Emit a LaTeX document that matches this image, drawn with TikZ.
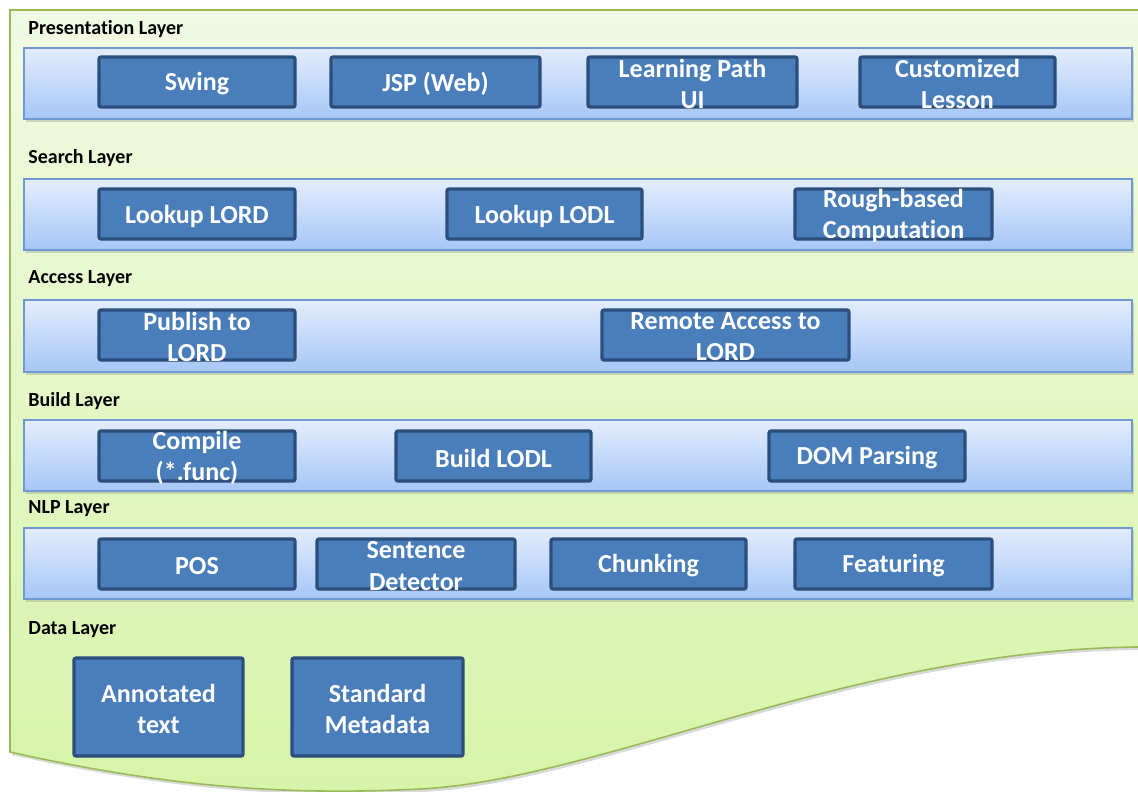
\documentclass[tikz,border=0pt]{standalone}
\usepackage{fontspec}
\setmainfont[Ligatures={NoCommon,NoRequired,NoContextual},Contextuals=NoAlternate]{Carlito}
\usetikzlibrary{positioning,shadows}

\definecolor{pagetop}{HTML}{F1FAE4}
\definecolor{pagebot}{HTML}{D6F4A8}
\definecolor{pageline}{HTML}{9BBB59}
\definecolor{bandtop}{HTML}{E3EDFD}
\definecolor{bandbot}{HTML}{A6C6F6}
\definecolor{bandline}{HTML}{6F9AD2}
\definecolor{blkfill}{HTML}{4A7EBB}
\definecolor{blkline}{HTML}{2B4E7C}

\begin{document}
\begin{tikzpicture}[x=0.5pt,y=-0.5pt,
  layer/.style={draw=bandline,line width=0.8pt,top color=bandtop,bottom color=bandbot,
    drop shadow={opacity=0.3,shadow xshift=0.8pt,shadow yshift=-1.6pt}},
  blk/.style={draw=blkline,fill=blkfill,line width=1.6pt,rounded corners=1pt,
    minimum width=98pt,minimum height=25pt,inner sep=0pt,
    drop shadow={opacity=0.25,shadow xshift=0.6pt,shadow yshift=-0.8pt}},
  btxt/.style={text=white,align=center,inner sep=0pt,yshift=-1pt,font=\bfseries\fontsize{13}{15.6}\selectfont},
  lbl/.style={anchor=west,inner sep=0pt,font=\bfseries\fontsize{10}{12}\selectfont}]
\useasboundingbox (0,0) rectangle (1138,791);
\clip (0,0) rectangle (1138,791);

% background sheet
\path[draw=pageline,line width=0.8pt,top color=pagetop,bottom color=pagebot,
  drop shadow={opacity=0.3,shadow xshift=1pt,shadow yshift=-1.5pt}]
  (1160,10) -- (10,10) -- (10,752) .. controls (180,790) and (300,795) .. (420,789)
  .. controls (600,780) and (850,650) .. (1138,647) -- (1160,647);

% layer bands
\draw[layer] (24,48) rectangle (1132,119);
\draw[layer] (24,179) rectangle (1132,250);
\draw[layer] (24,300) rectangle (1132,372);
\draw[layer] (24,420) rectangle (1132,491);
\draw[layer] (24,528) rectangle (1132,599);

% layer names
\node[lbl] (lpres) at (28,29) {Presentation Layer};
\node[lbl] (lsear) at (28,158) {Search Layer};
\node[lbl] (lacc) at (28,279) {Access Layer};
\node[lbl] (lbld) at (28,401) {Build Layer};
\node[lbl] (lnlp) at (28,509) {NLP Layer};
\node[lbl] (ldata) at (28,630) {Data Layer};

% presentation
\node[blk] (swing) at (197,82) {};
\node[btxt] (swingt) at (swing) {Swing};
\node[blk,minimum width=104.5pt] (jsp) at (435.5,82) {};
\node[btxt] (jspt) at (jsp) {JSP (Web)};
\node[blk,minimum width=104.5pt] (lpath) at (692.5,82) {};
\node[btxt] (lpatht) at (lpath) {Learning Path\\UI};
\node[blk,minimum width=97.5pt] (clesson) at (957.5,82) {};
\node[btxt] (clessont) at (clesson) {Customized\\Lesson};

% search
\node[blk] (lord) at (197,214) {};
\node[btxt] (lordt) at (lord) {Lookup LORD};
\node[blk,minimum width=97.5pt] (lodl) at (544.5,214) {};
\node[btxt] (lodlt) at (lodl) {Lookup LODL};
\node[blk,minimum width=98.5pt] (rough) at (893.5,214) {};
\node[btxt] (rought) at (rough) {Rough-based\\Computation};

% access
\node[blk] (publ) at (197,335) {};
\node[btxt] (publt) at (publ) {Publish to\\LORD};
\node[blk,minimum width=123.5pt] (remote) at (725.5,335) {};
\node[btxt] (remotet) at (remote) {Remote Access to\\LORD};

% build
\node[blk] (comp) at (197,456) {};
\node[btxt] (compt) at (comp) {Compile\\(*.func)};
\node[blk,minimum width=97.5pt] (blodl) at (493.5,456) {};
\node[btxt] (blodlt) at (blodl) {Build LODL};
\node[blk] (dom) at (867,456) {};
\node[btxt] (domt) at (dom) {DOM Parsing};

% nlp
\node[blk] (pos) at (197,564) {};
\node[btxt] (post) at (pos) {POS};
\node[blk,minimum width=99pt] (sent) at (416,564) {};
\node[btxt] (sentt) at (sent) {Sentence\\Detector};
\node[blk,minimum width=97.5pt] (chunk) at (648.5,564) {};
\node[btxt] (chunkt) at (chunk) {Chunking};
\node[blk,minimum width=98.5pt] (feat) at (893.5,564) {};
\node[btxt] (featt) at (feat) {Featuring};

% data
\node[blk,minimum width=84.5pt,minimum height=49pt] (annot) at (158.5,707) {};
\node[btxt] (annott) at (annot) {Annotated\\text};
\node[blk,minimum width=85.5pt,minimum height=49pt] (stdmeta) at (377.5,707) {};
\node[btxt] (stdmetat) at (stdmeta) {Standard\\Metadata};
\end{tikzpicture}
\end{document}
